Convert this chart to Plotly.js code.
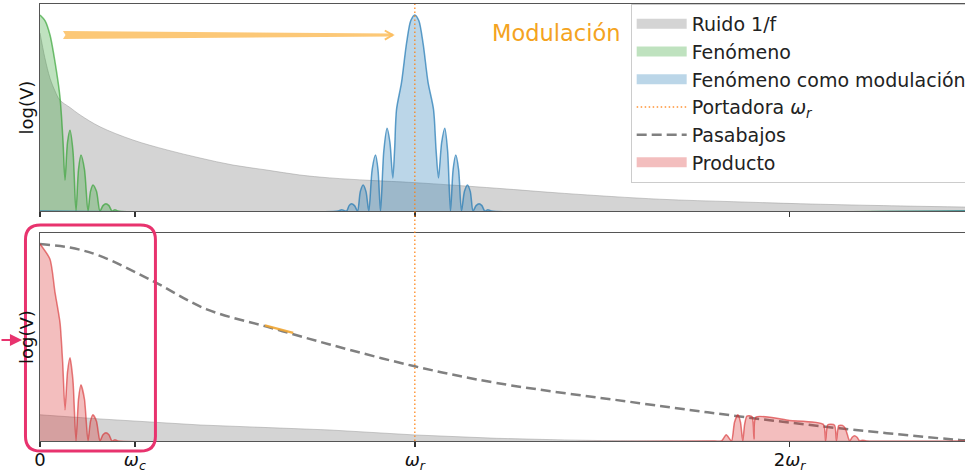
<!DOCTYPE html>
<html>
<head>
<meta charset="utf-8">
<script src="https://cdn.plot.ly/plotly-3.0.1.min.js"></script>
<style>html,body{margin:0;padding:0;overflow:hidden;background:#fff;}#chart{width:1000px;height:472px;}</style>
</head>
<body>
<div id="chart"></div>
<script>
// x in units of the carrier frequency (omega_r = 1)
const omegaR = 1;
const tickVals = [0, 0.253, 1, 2];
const tickText = ['0', '<i>ω<sub>c</sub></i>', '<i>ω<sub>r</sub></i>', '2<i>ω<sub>r</sub></i>'];
const legendNames = ['Ruido 1/f', 'Fenómeno', 'Fenómeno como modulación', 'Portadora <i>ω<sub>r</sub></i>', 'Pasabajos', 'Producto'];

// Top panel: 1/f noise
const noiseX = [0, 0.013, 0.027, 0.04, 0.053, 0.08, 0.107, 0.16, 0.248, 0.339, 0.427, 0.515, 0.605, 0.693, 0.773, 0.88, 1.0, 1.218, 1.4, 1.653, 1.85, 2.03, 2.25, 2.5];
const noiseY = [0.86, 0.74, 0.64, 0.58, 0.536, 0.5, 0.464, 0.407, 0.343, 0.295, 0.256, 0.222, 0.198, 0.174, 0.16, 0.148, 0.137, 0.11, 0.085, 0.057, 0.045, 0.035, 0.026, 0.018];

// Phenomenon (baseband)
const phenX = [0, 0.0133, 0.0267, 0.04, 0.0533, 0.0613, 0.0667, 0.0733, 0.08, 0.088, 0.096, 0.1027, 0.1093, 0.1187, 0.128, 0.1347, 0.1413, 0.1507, 0.16, 0.168, 0.176, 0.184, 0.192, 0.2, 0.208, 2.5];
const phenY = [0.947, 0.92, 0.85, 0.72, 0.55, 0.34, 0.15, 0.33, 0.39, 0.29, 0, 0.2, 0.27, 0.2, 0, 0.095, 0.126, 0.095, 0, 0.026, 0.035, 0.026, 0, 0.006, 0, 0];

// Phenomenon as modulation (around omega_r)
const modX = [0, 0.795, 0.805, 0.8179, 0.8246, 0.8312, 0.8392, 0.8472, 0.8547, 0.8621, 0.8697, 0.8773, 0.8862, 0.8952, 0.9018, 0.9085, 0.9173, 0.9261, 0.9337, 0.9413, 0.9462, 0.9512, 0.9645, 0.9779, 0.9893, 1.0, 1.0107, 1.0221, 1.0355, 1.05, 1.0566, 1.0632, 1.0716, 1.08, 1.0876, 1.0952, 1.1022, 1.1093, 1.1169, 1.1245, 1.1325, 1.1405, 1.148, 1.1555, 1.1635, 1.1715, 1.1791, 1.1867, 1.195, 1.205, 2.5];
const modY = [0, 0, 0.006, 0, 0.026, 0.035, 0.026, 0, 0.095, 0.126, 0.095, 0, 0.2, 0.27, 0.2, 0, 0.29, 0.40, 0.33, 0.16, 0.30, 0.49, 0.62, 0.81, 0.92, 0.947, 0.92, 0.81, 0.62, 0.49, 0.30, 0.16, 0.33, 0.40, 0.29, 0, 0.2, 0.27, 0.2, 0, 0.095, 0.126, 0.095, 0, 0.026, 0.035, 0.026, 0, 0.006, 0, 0];

// Bottom panel: low-pass filter
const lpX = [0, 0.08, 0.16, 0.3, 0.445, 0.6045, 0.773, 1.0, 1.218, 1.6, 1.867, 2.133, 2.453, 2.5];
const lpY = [0.947, 0.93, 0.89, 0.77, 0.633, 0.55, 0.464, 0.359, 0.279, 0.182, 0.118, 0.061, 0.005, 0];

// Bottom panel: noise after filtering
const noiseLpX = [0, 0.16, 0.427, 0.773, 1.0, 1.218, 1.4, 1.5, 1.8, 2.5];
const noiseLpY = [0.126, 0.106, 0.077, 0.053, 0.029, 0.013, 0.005, 0.002, 0, 0];

// Bottom panel: product
const prodX = [0, 0.0267, 0.04, 0.0533, 0.0605, 0.0667, 0.0733, 0.08, 0.088, 0.096, 0.1027, 0.1093, 0.1187, 0.128, 0.1347, 0.1413, 0.1507, 0.16, 0.168, 0.176, 0.184, 0.192, 0.2, 0.208,
  1.80, 1.818, 1.831, 1.845, 1.853, 1.862, 1.869, 1.875, 1.880, 1.886, 1.900, 1.905, 1.910, 2.0, 2.09, 2.096, 2.102, 2.12, 2.125, 2.131, 2.141, 2.149, 2.16, 2.167, 2.173, 2.18, 2.187, 2.195, 2.205, 2.5];
const prodY = [0.947, 0.874, 0.715, 0.57, 0.377, 0.15, 0.33, 0.40, 0.29, 0, 0.2, 0.27, 0.2, 0, 0.095, 0.126, 0.095, 0, 0.03, 0.04, 0.03, 0, 0.006, 0,
  0, 0, 0.03, 0, 0.09, 0.126, 0.09, 0, 0.08, 0.12, 0.117, 0.01, 0.115, 0.099, 0.08, 0, 0.078, 0.076, 0, 0.074, 0.075, 0.06, 0, 0.018, 0.025, 0.018, 0, 0.004, 0, 0];

const FONT = 'DejaVu Sans, Verdana, sans-serif';
const C = {
  grayFill: 'rgba(170,170,170,0.5)', grayLine: 'rgba(150,150,150,0.6)',
  greenFill: 'rgba(44,160,44,0.3)', greenLine: 'rgba(44,160,44,0.65)',
  blueFill: 'rgba(31,119,180,0.3)', blueLine: 'rgba(31,119,180,0.7)',
  redFill: 'rgba(214,39,40,0.3)', redLine: 'rgba(214,39,40,0.6)',
  orange: 'rgba(255,127,14,0.85)', dash: '#808080'
};

function legendPatch(name, color, group) {
  return {x: [null], y: [null], xaxis: 'x', yaxis: 'y', type: 'scatter', mode: 'lines', name: name,
    legendgroup: group, line: {color: color, width: 12}};
}

const traces = [
  {x: noiseX, y: noiseY, xaxis: 'x', yaxis: 'y', type: 'scatter', mode: 'lines', name: legendNames[0], showlegend: false,
   fill: 'tozeroy', fillcolor: C.grayFill, line: {color: C.grayLine, width: 0.8, shape: 'spline'}},
  {x: phenX, y: phenY, xaxis: 'x', yaxis: 'y', type: 'scatter', mode: 'lines', name: legendNames[1], showlegend: false,
   fill: 'tozeroy', fillcolor: C.greenFill, line: {color: C.greenLine, width: 1.5, shape: 'spline', smoothing: 0.8}},
  {x: modX, y: modY, xaxis: 'x', yaxis: 'y', type: 'scatter', mode: 'lines', name: legendNames[2], showlegend: false,
   fill: 'tozeroy', fillcolor: C.blueFill, line: {color: C.blueLine, width: 1.5, shape: 'spline', smoothing: 0.8}},
  {x: lpX, y: lpY, xaxis: 'x2', yaxis: 'y2', type: 'scatter', mode: 'lines', name: legendNames[4], showlegend: false,
   line: {color: C.dash, width: 2.5, dash: '10px,5px', shape: 'spline'}},
  {x: noiseLpX, y: noiseLpY, xaxis: 'x2', yaxis: 'y2', type: 'scatter', mode: 'lines', showlegend: false,
   fill: 'tozeroy', fillcolor: C.grayFill, line: {color: C.grayLine, width: 0.8}},
  {x: prodX, y: prodY, xaxis: 'x2', yaxis: 'y2', type: 'scatter', mode: 'lines', name: legendNames[5], showlegend: false,
   fill: 'tozeroy', fillcolor: C.redFill, line: {color: C.redLine, width: 1.5, shape: 'spline', smoothing: 0.6}},
  // legend entries
  legendPatch(legendNames[0], C.grayFill, 'g1'),
  legendPatch(legendNames[1], C.greenFill, 'g2'),
  legendPatch(legendNames[2], C.blueFill, 'g3'),
  {x: [null], y: [null], xaxis: 'x', yaxis: 'y', type: 'scatter', mode: 'lines', name: legendNames[3], legendgroup: 'g4',
   line: {color: C.orange, width: 1.5, dash: '1.5px,2.5px'}},
  {x: [null], y: [null], xaxis: 'x', yaxis: 'y', type: 'scatter', mode: 'lines', name: legendNames[4], legendgroup: 'g5',
   line: {color: C.dash, width: 2.5, dash: '10px,5px'}},
  legendPatch(legendNames[5], C.redFill, 'g6')
];

const xBase = {range: [0, 2.5], tickvals: tickVals, ticktext: tickText, ticks: 'outside', ticklen: 5, tickwidth: 1.5,
  tickcolor: '#333', showline: true, linecolor: '#555', linewidth: 1.2, mirror: true, showgrid: false, zeroline: false,
  tickfont: {family: FONT, size: 18, color: '#111'}, ticklabelstandoff: -3};
const yBase = {range: [0, 1], showticklabels: false, ticks: '', showline: true, linecolor: '#555', linewidth: 1.2,
  mirror: true, showgrid: false, zeroline: false,
  title: {text: 'log(V)', font: {family: FONT, size: 18, color: '#111'}, standoff: 0}};

const rx = 0.016, ry = 0.034;
const bx0 = -0.0155, bx1 = 0.1232, by0 = -0.0229, by1 = 0.4943;
const boxPath = `M${bx0+rx},${by1} L${bx1-rx},${by1} Q${bx1},${by1} ${bx1},${by1-ry} L${bx1},${by0+ry} Q${bx1},${by0} ${bx1-rx},${by0} L${bx0+rx},${by0} Q${bx0},${by0} ${bx0},${by0+ry} L${bx0},${by1-ry} Q${bx0},${by1} ${bx0+rx},${by1} Z`;

const layout = {
  width: 1000, height: 472,
  margin: {l: 40, r: 22.5, t: 4, b: 31},
  paper_bgcolor: '#fff', plot_bgcolor: '#fff',
  font: {family: FONT, color: '#111'},
  showlegend: true,
  legend: {x: 0.6304, y: 1.0, xanchor: 'left', yanchor: 'top', bgcolor: 'rgba(255,255,255,0.85)',
    bordercolor: '#cccccc', borderwidth: 1, font: {family: FONT, size: 19, color: '#222'},
    traceorder: 'grouped', tracegroupgap: 0, itemwidth: 50},
  xaxis: Object.assign({}, xBase, {anchor: 'y', domain: [0, 1], showticklabels: false}),
  yaxis: Object.assign({}, yBase, {anchor: 'x', domain: [0.5263, 1]}),
  xaxis2: Object.assign({}, xBase, {anchor: 'y2', domain: [0, 1]}),
  yaxis2: Object.assign({}, yBase, {anchor: 'x2', domain: [0, 0.476]}),
  shapes: [
    {type: 'line', xref: 'x', yref: 'paper', x0: omegaR, x1: omegaR, y0: 0, y1: 1,
     line: {color: 'rgba(255,127,14,0.8)', width: 1.5, dash: '1.5px,2.5px'}},
    {type: 'path', xref: 'x', yref: 'y', path: 'M0.0613,0.8693 L0.941,0.8572 L0.941,0.8428 L0.0613,0.8307 L0.068,0.85 Z',
     fillcolor: 'rgba(252,190,95,0.85)', line: {width: 0}},
    {type: 'path', xref: 'x', yref: 'y', path: 'M0.92,0.872 L0.941,0.85 L0.92,0.828',
     line: {color: 'rgba(252,190,95,0.95)', width: 2}},
    {type: 'line', xref: 'x2', yref: 'y2', x0: 0.6, y0: 0.556, x1: 0.6755, y1: 0.52,
     line: {color: 'rgba(240,165,50,0.9)', width: 2.5}},
    {type: 'path', xref: 'paper', yref: 'paper', path: boxPath, line: {color: '#e8336e', width: 3}}
  ],
  annotations: [
    {xref: 'x', yref: 'y', x: 1.376, y: 0.86, text: 'Modulación', showarrow: false,
     font: {family: FONT, size: 22.5, color: '#f4a321'}},
    {xref: 'paper', yref: 'paper', x: -0.0192, y: 0.2311, ax: -30, ay: 0, text: '', showarrow: true,
     arrowhead: 2, arrowsize: 1.1, arrowwidth: 2.2, arrowcolor: '#e8336e'}
  ]
};

Plotly.newPlot('chart', traces, layout, {staticPlot: true, displayModeBar: false});
</script>
</body>
</html>
